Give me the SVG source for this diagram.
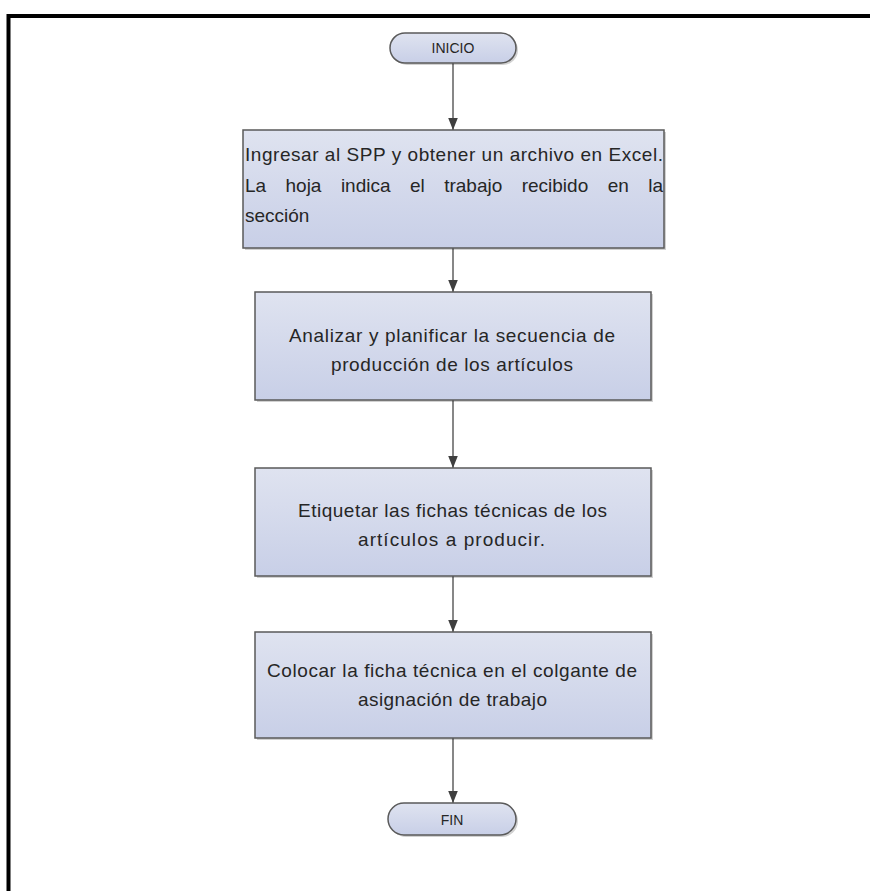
<svg xmlns="http://www.w3.org/2000/svg" width="870" height="891" viewBox="0 0 870 891">
<style>
.box{fill:url(#g);stroke:#5a5a5a;stroke-width:1.5}
.shadow{fill:#000;opacity:0.18}
.t{font-family:"Liberation Sans",Arial,sans-serif;font-size:19px;fill:#262626}
.small{font-family:"Liberation Sans",Arial,sans-serif;font-size:14px;fill:#262626;text-anchor:middle}
.conn{stroke:#5f5f5f;stroke-width:1.5;fill:none}
</style>
<defs>
<linearGradient id="g" x1="0" y1="0" x2="0" y2="1">
<stop offset="0" stop-color="#dfe3f0"/>
<stop offset="1" stop-color="#c8cfe7"/>
</linearGradient>
<marker id="arr" markerUnits="userSpaceOnUse" markerWidth="12" markerHeight="16" refX="15" refY="6" orient="auto" viewBox="0 0 15 12">
<path d="M0,0 L15,6 L0,12 Z" fill="#3f3f3f"/>
</marker>
</defs>
<rect x="0" y="0" width="870" height="891" fill="#fff"/>
<rect x="8.5" y="16" width="900" height="900" fill="none" stroke="#000" stroke-width="4"/>

<g id="connectors">
<line class="conn" x1="453" y1="63" x2="453" y2="130" marker-end="url(#arr)"/>
<line class="conn" x1="453" y1="248" x2="453" y2="292" marker-end="url(#arr)"/>
<line class="conn" x1="453" y1="400" x2="453" y2="468" marker-end="url(#arr)"/>
<line class="conn" x1="453" y1="576" x2="453" y2="632" marker-end="url(#arr)"/>
<line class="conn" x1="453" y1="738" x2="453" y2="803" marker-end="url(#arr)"/>
</g>

<g id="inicio">
<rect class="shadow" x="392" y="35" width="126" height="30" rx="15"/>
<rect class="box" x="390" y="33" width="126" height="30" rx="15"/>
<text class="small" x="453" y="53">INICIO</text>
</g>

<g id="paso1">
<rect class="shadow" x="245" y="132" width="421" height="118"/>
<rect class="box" x="243" y="130" width="421" height="118"/>
<text class="t" x="245" y="161" textLength="418" lengthAdjust="spacing">Ingresar al SPP y obtener un archivo en Excel.</text>
<text class="t" y="192"><tspan x="245">La</tspan> <tspan x="285.5">hoja</tspan> <tspan x="340.9">indica</tspan> <tspan x="409.9">el</tspan> <tspan x="444.2">trabajo</tspan> <tspan x="521.7">recibido</tspan> <tspan x="607.7">en</tspan> <tspan x="648.2">la</tspan></text>
<text class="t" x="245" y="222">sección</text>
</g>

<g id="paso2">
<rect class="shadow" x="257" y="294" width="396" height="108"/>
<rect class="box" x="255" y="292" width="396" height="108"/>
<text class="t" x="289" y="342" textLength="326" lengthAdjust="spacing">Analizar  y planificar la secuencia de</text>
<text class="t" x="331" y="371" textLength="242" lengthAdjust="spacing">producción de los artículos</text>
</g>

<g id="paso3">
<rect class="shadow" x="257" y="470" width="396" height="108"/>
<rect class="box" x="255" y="468" width="396" height="108"/>
<text class="t" x="298" y="517" textLength="309" lengthAdjust="spacing">Etiquetar las fichas técnicas de los</text>
<text class="t" x="358" y="546" textLength="187" lengthAdjust="spacing">artículos  a producir.</text>
</g>

<g id="paso4">
<rect class="shadow" x="257" y="634" width="396" height="106"/>
<rect class="box" x="255" y="632" width="396" height="106"/>
<text class="t" x="267" y="677" textLength="370" lengthAdjust="spacing">Colocar la ficha técnica en el colgante de</text>
<text class="t" x="358" y="706" textLength="189" lengthAdjust="spacing">asignación de trabajo</text>
</g>

<g id="fin">
<rect class="shadow" x="390" y="805" width="128" height="32" rx="16"/>
<rect class="box" x="388" y="803" width="128" height="32" rx="16"/>
<text class="small" x="452" y="825">FIN</text>
</g>
</svg>
